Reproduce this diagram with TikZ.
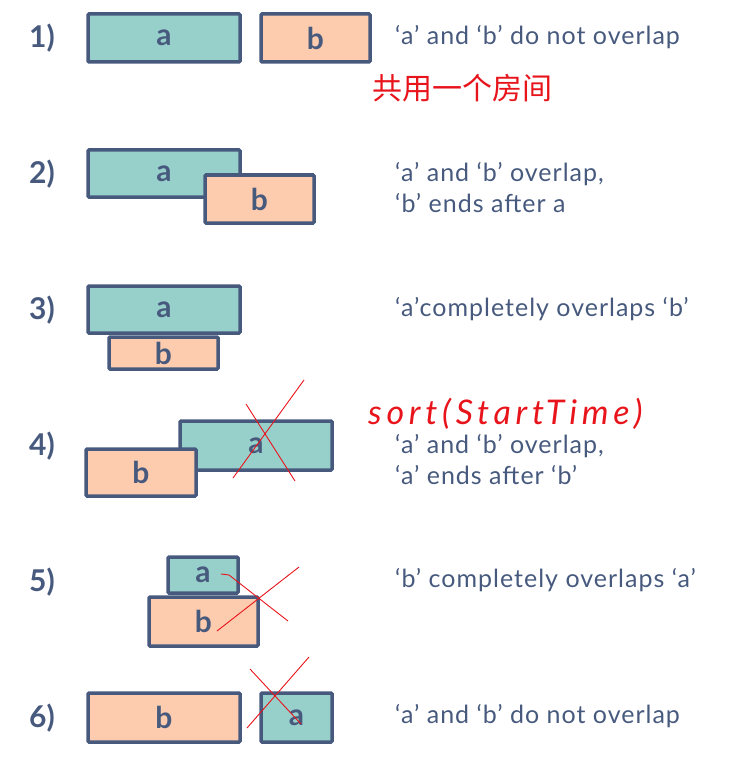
\documentclass[tikz,border=0pt]{standalone}
\usepackage{fontspec}
\setmainfont{Lato}
\newfontfamily\cjk{Noto Sans CJK SC}
\newfontfamily\wide[LetterSpace=4]{Lato}
\newfontfamily\handfont[LetterSpace=14]{Lato}
\definecolor{teal}{HTML}{97D0CB}
\definecolor{peach}{HTML}{FDCBAE}
\definecolor{ink}{HTML}{475A7E}
\definecolor{pen}{HTML}{E8141B}
\begin{document}
\begin{tikzpicture}[x=1pt,y=-1pt,
  box/.style={draw=ink,line width=3.5pt,rounded corners=1pt,inner sep=0pt,text=ink,
    font=\fontsize{30}{30}\selectfont\bfseries},
  boxa/.style={box,fill=teal},
  boxb/.style={box,fill=peach},
  num/.style={text=ink,font=\fontsize{30}{30}\selectfont\bfseries,inner sep=0pt},
  desc/.style={text=ink,font=\fontsize{25}{31}\wide\selectfont,anchor=west,align=left,inner sep=0pt},
  hand/.style={text=pen,font=\fontsize{34}{36}\handfont\selectfont\itshape,anchor=west,inner sep=0pt},
  cross/.style={draw=pen,line width=0.9pt}]
\useasboundingbox (0,0) rectangle (747,762);
% row 1
\node[num] (n1) at (42,38) {1)};
\node[boxa,minimum width=152,minimum height=48] (a1) at (164,38) {a};
\node[boxb,minimum width=109,minimum height=48] (b1) at (315.5,38) {b};
\node[desc] (t1) at (395,37) {‘a’ and ‘b’ do not overlap};
\node[hand,font=\fontsize{30}{32}\selectfont\cjk] (h1) at (372,88) {共用一个房间};
% row 2
\node[num] (n2) at (42,174) {2)};
\node[boxa,minimum width=152,minimum height=47] (a2) at (164,173.5) {a};
\node[boxb,minimum width=109,minimum height=48] (b2) at (259.5,199) {b};
\node[desc] (t2) at (395,188) {‘a’ and ‘b’ overlap,\\‘b’ ends after a};
% row 3
\node[num] (n3) at (42,310) {3)};
\node[boxb,minimum width=109,minimum height=32] (b3) at (163.5,353) {b};
\node[boxa,minimum width=152,minimum height=47] (a3) at (164,309.5) {a};
\node[desc] (t3) at (395,309) {‘a’completely overlaps ‘b’};
% row 4
\node[num] (n4) at (42,446) {4)};
\node[boxa,minimum width=152,minimum height=49] (a4) at (256,445.5) {a};
\node[boxb,minimum width=110,minimum height=47] (b4) at (141,472.5) {b};
\node[desc] (t4) at (395,460) {‘a’ and ‘b’ overlap,\\‘a’ ends after ‘b’};
\node[hand] (h4) at (368,414) {sort(StartTime)};
\coordinate (c4a) at (246,404); \coordinate (c4b) at (295,481);
\coordinate (c4c) at (304,380); \coordinate (c4d) at (233,478);
\draw[cross] (c4a) -- (c4b);
\draw[cross] (c4c) -- (c4d);
% row 5
\node[num] (n5) at (42,582) {5)};
\node[boxa,minimum width=70,minimum height=36] (a5) at (203,575) {a};
\node[boxb,minimum width=109,minimum height=49] (b5) at (203.5,621.5) {b};
\node[desc] (t5) at (395,580) {‘b’ completely overlaps ‘a’};
\coordinate (c5a) at (221,574); \coordinate (c5b) at (288,621);
\coordinate (c5c) at (299,567); \coordinate (c5d) at (217,631);
\draw[cross] (c5a) -- ++(8,1) -- (c5b);
\draw[cross] (c5c) -- (c5d);
% row 6
\node[num] (n6) at (42,718) {6)};
\node[boxb,minimum width=152,minimum height=49] (b6) at (164,717.5) {b};
\node[boxa,minimum width=71,minimum height=49] (a6) at (296.5,717.5) {a};
\node[desc] (t6) at (395,716) {‘a’ and ‘b’ do not overlap};
\coordinate (c6a) at (250,669); \coordinate (c6b) at (301,724);
\coordinate (c6c) at (309,657); \coordinate (c6d) at (247,728);
\draw[cross] (c6a) -- (c6b);
\draw[cross] (c6c) -- (c6d);
\end{tikzpicture}
\end{document}
